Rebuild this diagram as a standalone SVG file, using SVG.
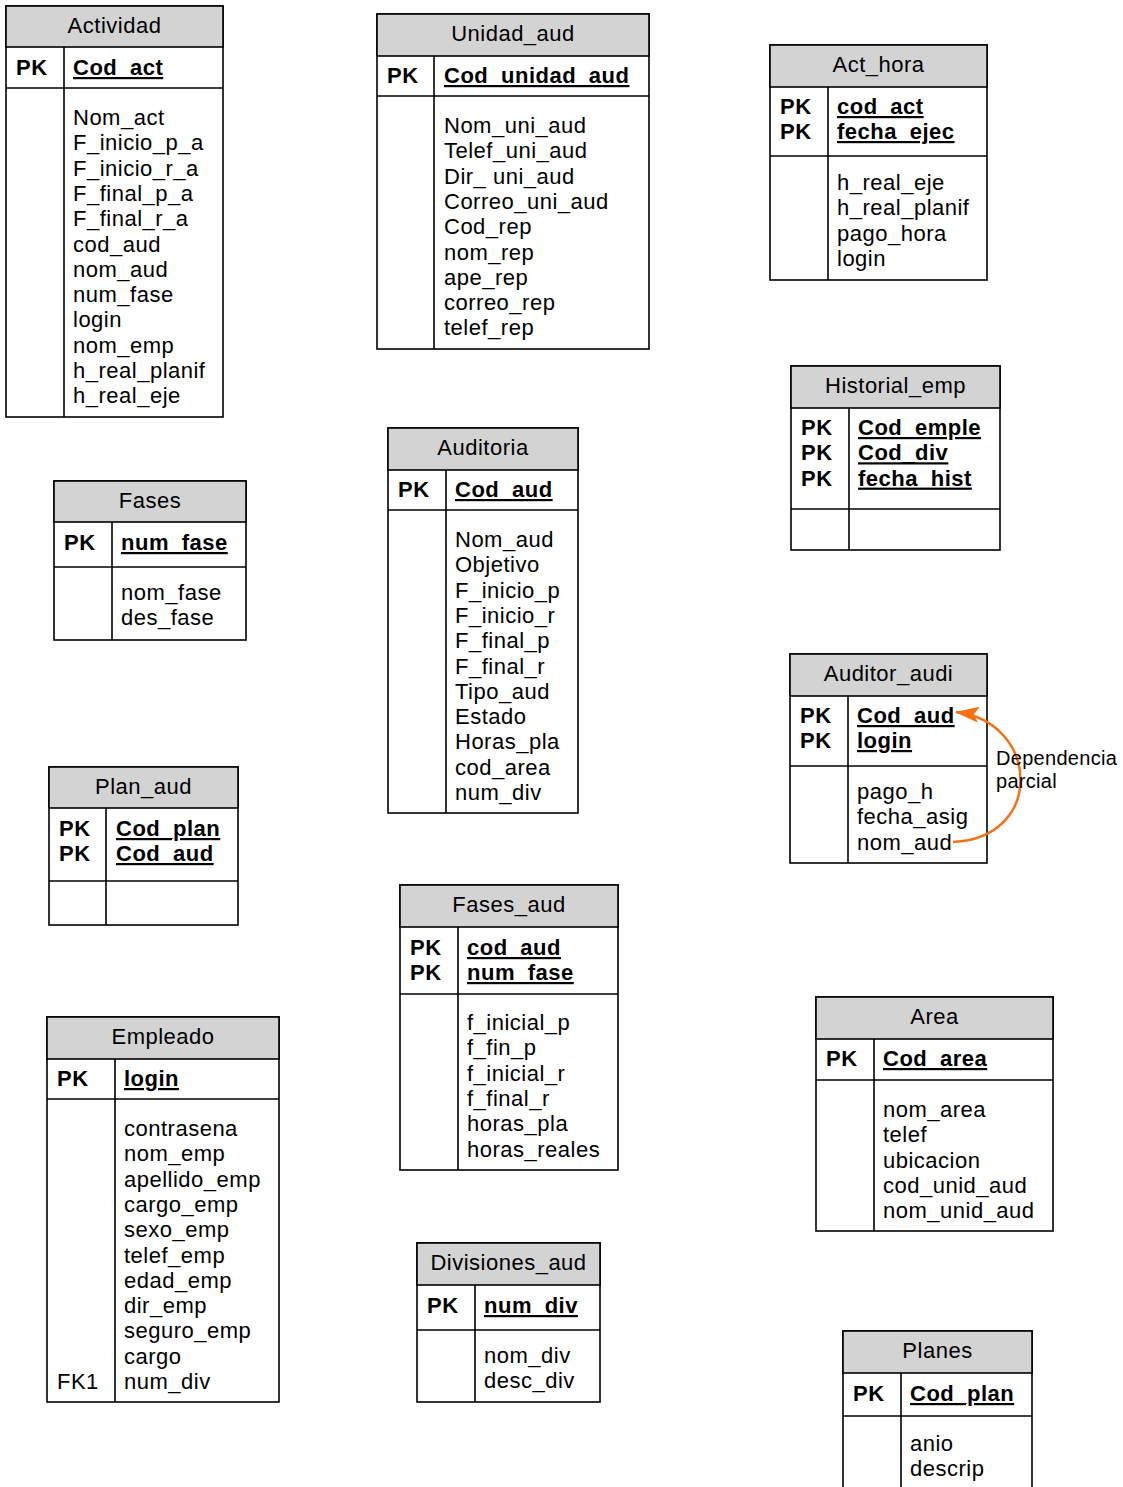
<svg xmlns="http://www.w3.org/2000/svg" width="1123" height="1487" viewBox="0 0 1123 1487">
<style>
.box{fill:#fff;stroke:#000;stroke-width:1.6}
.hdr{fill:#d3d3d3;stroke:#000;stroke-width:1.6}
.ln{stroke:#000;stroke-width:1.6;fill:none}
text{font-family:"Liberation Sans",Arial,sans-serif;font-size:22px;fill:#000;letter-spacing:0.5px;transform:translateY(-1px)}
.t{text-anchor:middle}
.pk{font-weight:bold}
.key{font-weight:bold;text-decoration:underline}
.lbl{font-size:20px;letter-spacing:0.3px}
</style>
<defs>
<marker id="arr" viewBox="0 0 24 16" refX="23" refY="8" markerWidth="24" markerHeight="16" markerUnits="userSpaceOnUse" orient="auto">
<path d="M0,0 L24,8 L0,16 L5,8 z" fill="#f87013"/>
</marker>
</defs>

<g id="Actividad">
<rect class="box" x="6" y="6" width="217" height="411"/>
<rect class="hdr" x="6" y="6" width="217" height="41"/>
<line class="ln" x1="6" y1="88" x2="223" y2="88"/>
<line class="ln" x1="64" y1="47" x2="64" y2="417"/>
<text class="t" x="114.5" y="34">Actividad</text>
<text class="pk" x="16" y="76">PK</text>
<text class="key" x="73" y="76">Cod_act</text>
<text x="73" y="126">Nom_act</text>
<text x="73" y="151.3">F_inicio_p_a</text>
<text x="73" y="176.6">F_inicio_r_a</text>
<text x="73" y="201.9">F_final_p_a</text>
<text x="73" y="227.2">F_final_r_a</text>
<text x="73" y="252.5">cod_aud</text>
<text x="73" y="277.8">nom_aud</text>
<text x="73" y="303.1">num_fase</text>
<text x="73" y="328.4">login</text>
<text x="73" y="353.7">nom_emp</text>
<text x="73" y="379">h_real_planif</text>
<text x="73" y="404.3">h_real_eje</text>
</g>

<g id="Unidad_aud">
<rect class="box" x="377" y="14" width="272" height="335"/>
<rect class="hdr" x="377" y="14" width="272" height="42"/>
<line class="ln" x1="377" y1="96" x2="649" y2="96"/>
<line class="ln" x1="434" y1="56" x2="434" y2="349"/>
<text class="t" x="513" y="42">Unidad_aud</text>
<text class="pk" x="387" y="84">PK</text>
<text class="key" x="444" y="84">Cod_unidad_aud</text>
<text x="444" y="134">Nom_uni_aud</text>
<text x="444" y="159.3">Telef_uni_aud</text>
<text x="444" y="184.6">Dir_ uni_aud</text>
<text x="444" y="209.9">Correo_uni_aud</text>
<text x="444" y="235.2">Cod_rep</text>
<text x="444" y="260.5">nom_rep</text>
<text x="444" y="285.8">ape_rep</text>
<text x="444" y="311.1">correo_rep</text>
<text x="444" y="336.4">telef_rep</text>
</g>

<g id="Act_hora">
<rect class="box" x="770" y="45" width="217" height="235"/>
<rect class="hdr" x="770" y="45" width="217" height="42"/>
<line class="ln" x1="770" y1="156" x2="987" y2="156"/>
<line class="ln" x1="828" y1="87" x2="828" y2="280"/>
<text class="t" x="878.5" y="73">Act_hora</text>
<text class="pk" x="780" y="115">PK</text>
<text class="pk" x="780" y="140">PK</text>
<text class="key" x="837" y="115">cod_act</text>
<text class="key" x="837" y="140">fecha_ejec</text>
<text x="837" y="191">h_real_eje</text>
<text x="837" y="216.3">h_real_planif</text>
<text x="837" y="241.6">pago_hora</text>
<text x="837" y="266.9">login</text>
</g>

<g id="Historial_emp">
<rect class="box" x="791" y="366" width="209" height="184"/>
<rect class="hdr" x="791" y="366" width="209" height="42"/>
<line class="ln" x1="791" y1="509" x2="1000" y2="509"/>
<line class="ln" x1="849" y1="408" x2="849" y2="550"/>
<text class="t" x="895.5" y="394">Historial_emp</text>
<text class="pk" x="801" y="436">PK</text>
<text class="pk" x="801" y="461.3">PK</text>
<text class="pk" x="801" y="486.6">PK</text>
<text class="key" x="858" y="436">Cod_emple</text>
<text class="key" x="858" y="461.3">Cod_div</text>
<text class="key" x="858" y="486.6">fecha_hist</text>
</g>

<g id="Auditoria">
<rect class="box" x="388" y="428" width="190" height="385"/>
<rect class="hdr" x="388" y="428" width="190" height="42"/>
<line class="ln" x1="388" y1="510" x2="578" y2="510"/>
<line class="ln" x1="446" y1="470" x2="446" y2="813"/>
<text class="t" x="483" y="456">Auditoria</text>
<text class="pk" x="398" y="498">PK</text>
<text class="key" x="455" y="498">Cod_aud</text>
<text x="455" y="548">Nom_aud</text>
<text x="455" y="573.3">Objetivo</text>
<text x="455" y="598.6">F_inicio_p</text>
<text x="455" y="623.9">F_inicio_r</text>
<text x="455" y="649.2">F_final_p</text>
<text x="455" y="674.5">F_final_r</text>
<text x="455" y="699.8">Tipo_aud</text>
<text x="455" y="725.1">Estado</text>
<text x="455" y="750.4">Horas_pla</text>
<text x="455" y="775.7">cod_area</text>
<text x="455" y="801">num_div</text>
</g>

<g id="Fases">
<rect class="box" x="54" y="481" width="192" height="159"/>
<rect class="hdr" x="54" y="481" width="192" height="41"/>
<line class="ln" x1="54" y1="567" x2="246" y2="567"/>
<line class="ln" x1="112" y1="522" x2="112" y2="640"/>
<text class="t" x="150" y="509">Fases</text>
<text class="pk" x="64" y="551">PK</text>
<text class="key" x="121" y="551">num_fase</text>
<text x="121" y="601">nom_fase</text>
<text x="121" y="626.3">des_fase</text>
</g>

<g id="Auditor_audi">
<rect class="box" x="790" y="654" width="197" height="209"/>
<rect class="hdr" x="790" y="654" width="197" height="42"/>
<line class="ln" x1="790" y1="766" x2="987" y2="766"/>
<line class="ln" x1="848" y1="696" x2="848" y2="863"/>
<text class="t" x="888.5" y="682">Auditor_audi</text>
<text class="pk" x="800" y="724">PK</text>
<text class="pk" x="800" y="749">PK</text>
<text class="key" x="857" y="724">Cod_aud</text>
<text class="key" x="857" y="749">login</text>
<text x="857" y="800">pago_h</text>
<text x="857" y="825.3">fecha_asig</text>
<text x="857" y="850.6">nom_aud</text>
</g>

<g id="Plan_aud">
<rect class="box" x="49" y="767" width="189" height="158"/>
<rect class="hdr" x="49" y="767" width="189" height="41"/>
<line class="ln" x1="49" y1="881" x2="238" y2="881"/>
<line class="ln" x1="106" y1="808" x2="106" y2="925"/>
<text class="t" x="143.5" y="795">Plan_aud</text>
<text class="pk" x="59" y="837">PK</text>
<text class="pk" x="59" y="862">PK</text>
<text class="key" x="116" y="837">Cod_plan</text>
<text class="key" x="116" y="862">Cod_aud</text>
</g>

<g id="Fases_aud">
<rect class="box" x="400" y="885" width="218" height="285"/>
<rect class="hdr" x="400" y="885" width="218" height="42"/>
<line class="ln" x1="400" y1="994" x2="618" y2="994"/>
<line class="ln" x1="458" y1="927" x2="458" y2="1170"/>
<text class="t" x="509" y="913">Fases_aud</text>
<text class="pk" x="410" y="956">PK</text>
<text class="pk" x="410" y="981">PK</text>
<text class="key" x="467" y="956">cod_aud</text>
<text class="key" x="467" y="981">num_fase</text>
<text x="467" y="1031">f_inicial_p</text>
<text x="467" y="1056.3">f_fin_p</text>
<text x="467" y="1081.6">f_inicial_r</text>
<text x="467" y="1106.9">f_final_r</text>
<text x="467" y="1132.2">horas_pla</text>
<text x="467" y="1157.5">horas_reales</text>
</g>

<g id="Area">
<rect class="box" x="816" y="997" width="237" height="234"/>
<rect class="hdr" x="816" y="997" width="237" height="42"/>
<line class="ln" x1="816" y1="1080" x2="1053" y2="1080"/>
<line class="ln" x1="874" y1="1039" x2="874" y2="1231"/>
<text class="t" x="934.5" y="1025">Area</text>
<text class="pk" x="826" y="1067">PK</text>
<text class="key" x="883" y="1067">Cod_area</text>
<text x="883" y="1118">nom_area</text>
<text x="883" y="1143.3">telef</text>
<text x="883" y="1168.6">ubicacion</text>
<text x="883" y="1193.9">cod_unid_aud</text>
<text x="883" y="1219.2">nom_unid_aud</text>
</g>

<g id="Empleado">
<rect class="box" x="47" y="1017" width="232" height="385"/>
<rect class="hdr" x="47" y="1017" width="232" height="42"/>
<line class="ln" x1="47" y1="1099" x2="279" y2="1099"/>
<line class="ln" x1="115" y1="1059" x2="115" y2="1402"/>
<text class="t" x="163" y="1045">Empleado</text>
<text class="pk" x="57" y="1087">PK</text>
<text class="key" x="124" y="1087">login</text>
<text x="124" y="1137">contrasena</text>
<text x="124" y="1162.3">nom_emp</text>
<text x="124" y="1187.6">apellido_emp</text>
<text x="124" y="1212.9">cargo_emp</text>
<text x="124" y="1238.2">sexo_emp</text>
<text x="124" y="1263.5">telef_emp</text>
<text x="124" y="1288.8">edad_emp</text>
<text x="124" y="1314.1">dir_emp</text>
<text x="124" y="1339.4">seguro_emp</text>
<text x="124" y="1364.7">cargo</text>
<text x="124" y="1390">num_div</text>
<text x="57" y="1390">FK1</text>
</g>

<g id="Divisiones_aud">
<rect class="box" x="417" y="1243" width="183" height="159"/>
<rect class="hdr" x="417" y="1243" width="183" height="42"/>
<line class="ln" x1="417" y1="1330" x2="600" y2="1330"/>
<line class="ln" x1="475" y1="1285" x2="475" y2="1402"/>
<text class="t" x="508.5" y="1271">Divisiones_aud</text>
<text class="pk" x="427" y="1314">PK</text>
<text class="key" x="484" y="1314">num_div</text>
<text x="484" y="1364">nom_div</text>
<text x="484" y="1389.3">desc_div</text>
</g>

<g id="Planes">
<rect class="box" x="843" y="1331" width="189" height="170"/>
<rect class="hdr" x="843" y="1331" width="189" height="42"/>
<line class="ln" x1="843" y1="1416" x2="1032" y2="1416"/>
<line class="ln" x1="901" y1="1373" x2="901" y2="1501"/>
<text class="t" x="937.5" y="1359">Planes</text>
<text class="pk" x="853" y="1402">PK</text>
<text class="key" x="910" y="1402">Cod_plan</text>
<text x="910" y="1452">anio</text>
<text x="910" y="1477.3">descrip</text>
</g>

<g id="connectors">
<path d="M953,842 C1045,838 1040,722 956,712" fill="none" stroke="#f87013" stroke-width="2.5" marker-end="url(#arr)"/>
<text class="lbl" x="996" y="766">Dependencia</text>
<text class="lbl" x="996" y="789">parcial</text>
</g>
</svg>
